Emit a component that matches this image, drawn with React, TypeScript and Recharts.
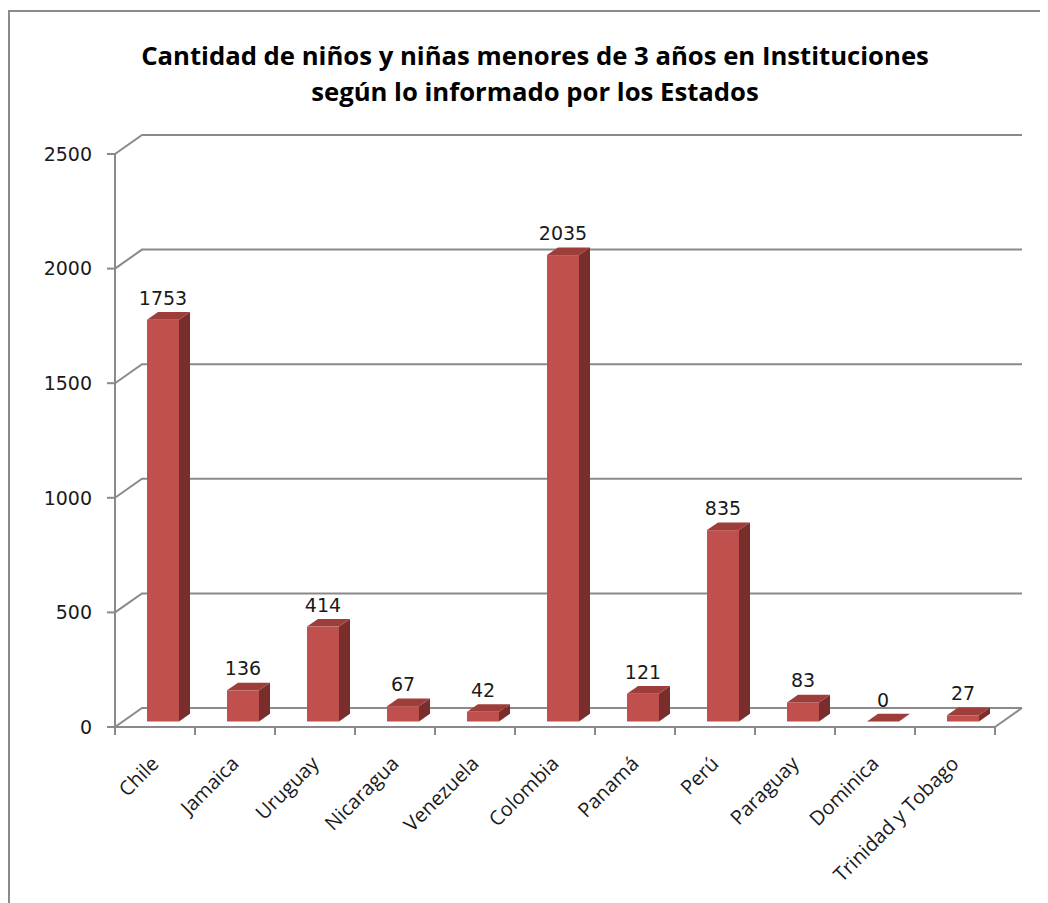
import React from 'react';
import { BarChart, Bar, XAxis, YAxis, CartesianGrid, LabelList } from 'recharts';

const categories = ['Chile', 'Jamaica', 'Uruguay', 'Nicaragua', 'Venezuela', 'Colombia', 'Panamá', 'Perú', 'Paraguay', 'Dominica', 'Trinidad y Tobago'];
const values = [1753, 136, 414, 67, 42, 2035, 121, 835, 83, 0, 27];
const yTicks = [0, 500, 1000, 1500, 2000, 2500];
const titleLines = ['Cantidad de niños y niñas menores de 3 años en Instituciones', 'según lo informado por los Estados'];

const data = categories.map((name, i) => ({ name, value: values[i] }));

const W = 1040;
const H = 895;
const Y_AXIS_W = 60;
const X_AXIS_H = 100;
const margin = { top: 146, right: 53, left: 47, bottom: 76 };
const PLOT_BOTTOM = H - margin.bottom - X_AXIS_H;
const PLOT_LEFT = margin.left + Y_AXIS_W;
const BAND = (W - margin.right - PLOT_LEFT) / categories.length;

// 3D depth styling
const DX = 27;
const DY = 19;
const FRONT_DX = 8;
const FRONT_DY = 5.5;
const BAR_DX = 11;
const BAR_DY = 7.7;

const GRID = '#8a8a8a';
const FRONT = '#C0504D';
const TOP = '#9E3E3B';
const SIDE = '#7A2E2C';
const LABEL_FONT = '"DejaVu Sans", sans-serif';
const CAT_FONT = '"Open Sans", sans-serif';

const gridLine = (props: any) => {
  const { x1, y1, x2 } = props;
  const isFloor = Math.abs(y1 - PLOT_BOTTOM) < 1;
  return (
    <g key={props.key ?? `g-${y1}`}>
      <path d={`M${x1},${y1} L${x1 + DX},${y1 - DY} L${x2 + DX},${y1 - DY}`} stroke={GRID} strokeWidth={2} fill="none" />
      {isFloor && <path d={`M${x2},${y1} L${x2 + DX},${y1 - DY}`} stroke={GRID} strokeWidth={2} fill="none" />}
    </g>
  );
};

const Bar3D = (props: any) => {
  const { x, y, width } = props;
  const height = Math.max(props.height || 0, 0);
  const fx = x + FRONT_DX;
  const fy = y - FRONT_DY;
  return (
    <g>
      <path d={`M${fx + width},${fy} L${fx + width + BAR_DX},${fy - BAR_DY} L${fx + width + BAR_DX},${fy + height - BAR_DY} L${fx + width},${fy + height} Z`} fill={SIDE} />
      {height > 0 && <rect x={fx} y={fy} width={width} height={height} fill={FRONT} />}
      <path d={`M${fx},${fy} L${fx + BAR_DX},${fy - BAR_DY} L${fx + width + BAR_DX},${fy - BAR_DY} L${fx + width},${fy} Z`} fill={TOP} />
    </g>
  );
};

const renderValueLabel = (props: any) => {
  const { x, y, width, value } = props;
  return (
    <text x={x + FRONT_DX + width / 2} y={y - FRONT_DY - 15} textAnchor="middle" fontFamily={LABEL_FONT} fontSize={19} fill="#1a1a1a">
      {value}
    </text>
  );
};

const XTick = (props: any) => {
  const { x, payload, index } = props;
  const half = BAND / 2;
  return (
    <g>
      <line x1={x - half} y1={PLOT_BOTTOM} x2={x - half} y2={PLOT_BOTTOM + 8} stroke={GRID} strokeWidth={2} />
      {index === categories.length - 1 && (
        <line x1={x + half} y1={PLOT_BOTTOM} x2={x + half} y2={PLOT_BOTTOM + 8} stroke={GRID} strokeWidth={2} />
      )}
      <text transform={`translate(${x + 5},${PLOT_BOTTOM + 38}) rotate(-45)`} textAnchor="end" fontFamily={CAT_FONT} fontSize={20} fill="#1a1a1a">
        {payload.value}
      </text>
    </g>
  );
};

export default function App() {
  return (
    <div style={{ position: 'relative', width: W, height: H, overflow: 'hidden', background: '#fff' }}>
      <div style={{ position: 'absolute', left: 0, top: 2, width: 3000, height: 3000, borderLeft: `2px solid ${GRID}`, borderTop: `2px solid ${GRID}` }} />
      <div style={{ position: 'absolute', left: 7, top: 30, width: W, textAlign: 'center', fontFamily: '"Open Sans", sans-serif', fontWeight: 700, fontSize: 25.7, lineHeight: '36px', color: '#000' }}>
        <div>{titleLines[0]}</div>
        <div>{titleLines[1]}</div>
      </div>
      <div style={{ position: 'absolute', left: 0, top: 0 }}>
        <BarChart width={W} height={H} data={data} margin={margin} barCategoryGap="30%">
          <CartesianGrid vertical={false} horizontal={gridLine} />
          <XAxis dataKey="name" interval={0} height={X_AXIS_H} tickLine={false} axisLine={{ stroke: GRID, strokeWidth: 2 }} tick={<XTick />} />
          <YAxis
            width={Y_AXIS_W}
            domain={[0, 2500]}
            ticks={yTicks}
            tickSize={8}
            tickMargin={15}
            axisLine={{ stroke: GRID, strokeWidth: 2 }}
            tickLine={{ stroke: GRID, strokeWidth: 2 }}
            tick={{ fill: '#1a1a1a', fontSize: 19, fontFamily: LABEL_FONT }}
          />
          <Bar dataKey="value" shape={<Bar3D />} isAnimationActive={false}>
            <LabelList dataKey="value" content={renderValueLabel} />
          </Bar>
        </BarChart>
      </div>
    </div>
  );
}
